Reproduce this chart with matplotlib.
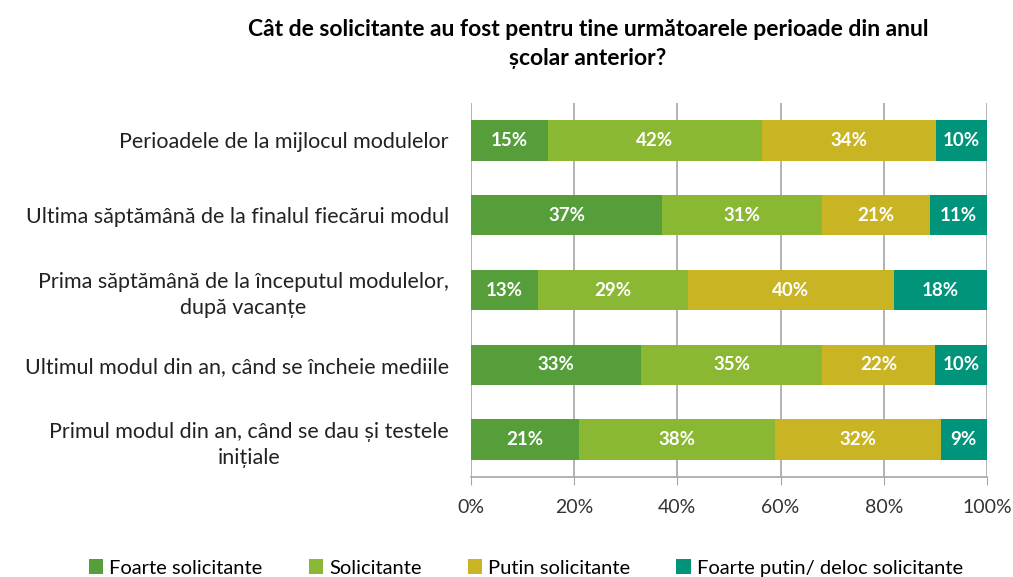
import numpy as np
import matplotlib
matplotlib.use("Agg")
import matplotlib.pyplot as plt
from matplotlib.patches import Patch

plt.rcParams["font.family"] = ["Lato", "DejaVu Sans"]

CATEGORIES = [
    "Perioadele de la mijlocul modulelor",
    "Ultima săptămână de la finalul fiecărui modul",
    "Prima săptămână de la începutul modulelor,\ndupă vacanțe",
    "Ultimul modul din an, când se încheie mediile",
    "Primul modul din an, când se dau și testele\ninițiale",
]
SERIES = [
    "Foarte solicitante",
    "Solicitante",
    "Putin solicitante",
    "Foarte putin/ deloc solicitante",
]
foarte = [15, 37, 13, 33, 21]
solicitante = [42, 31, 29, 35, 38]
putin = [34, 21, 40, 22, 32]
deloc = [10, 11, 18, 10, 9]
COLORS = ["#559E3A", "#8BB833", "#C9B523", "#00957A"]
TITLE = "Cât de solicitante au fost pentru tine următoarele perioade din anul\nșcolar anterior?"

vals = np.array([foarte, solicitante, putin, deloc], dtype=float)
share = vals / vals.sum(axis=0) * 100  # bars are stacked to 100%

fig = plt.figure(figsize=(10.13, 5.77), dpi=100)
ax = fig.add_axes([471 / 1013, 1 - 477 / 577, 516 / 1013, 374 / 577])

y = np.arange(len(CATEGORIES))
left = np.zeros(len(CATEGORIES))
for i, name in enumerate(SERIES):
    ax.barh(y, share[i], left=left, height=0.54, color=COLORS[i],
            label=name, zorder=3)
    for j in range(len(CATEGORIES)):
        ax.text(left[j] + share[i][j] / 2, y[j], f"{int(vals[i][j])}%",
                ha="center", va="center", color="white",
                fontsize=13.5, fontweight="bold", zorder=4)
    left += share[i]

ax.set_xlim(0, 100)
ax.set_ylim(len(CATEGORIES) - 0.5, -0.5)
ax.set_xticks(np.arange(0, 101, 20))
ax.set_xticklabels([f"{t}%" for t in range(0, 101, 20)], fontsize=14, color="#333333")
ax.set_yticks(y)
ax.set_yticklabels(CATEGORIES, fontsize=15.5, color="#222222",
                   multialignment="center", linespacing=1.4)
ax.tick_params(axis="y", length=0, pad=16)
ax.tick_params(axis="x", length=6, color="#a6a6a6", direction="out", pad=10)
ax.grid(axis="x", color="#a6a6a6", linewidth=1.2, zorder=0)
for s in ["top", "right", "left"]:
    ax.spines[s].set_visible(False)
ax.spines["bottom"].set_color("#a6a6a6")
ax.spines["bottom"].set_linewidth(1.2)

fig.text(588 / 1013, 1 - 44 / 577, TITLE, ha="center", va="center",
         fontsize=16.5, fontweight="bold", linespacing=1.5)

handles = [Patch(facecolor=c, edgecolor="none") for c in COLORS]
fig.legend(handles, SERIES, loc="center", bbox_to_anchor=(526 / 1013, 1 - 568 / 577),
           ncol=4, frameon=False, fontsize=14.5, handlelength=0.7, handleheight=0.7,
           handletextpad=0.3, columnspacing=2.3)

fig.savefig("out.png", dpi=100)
